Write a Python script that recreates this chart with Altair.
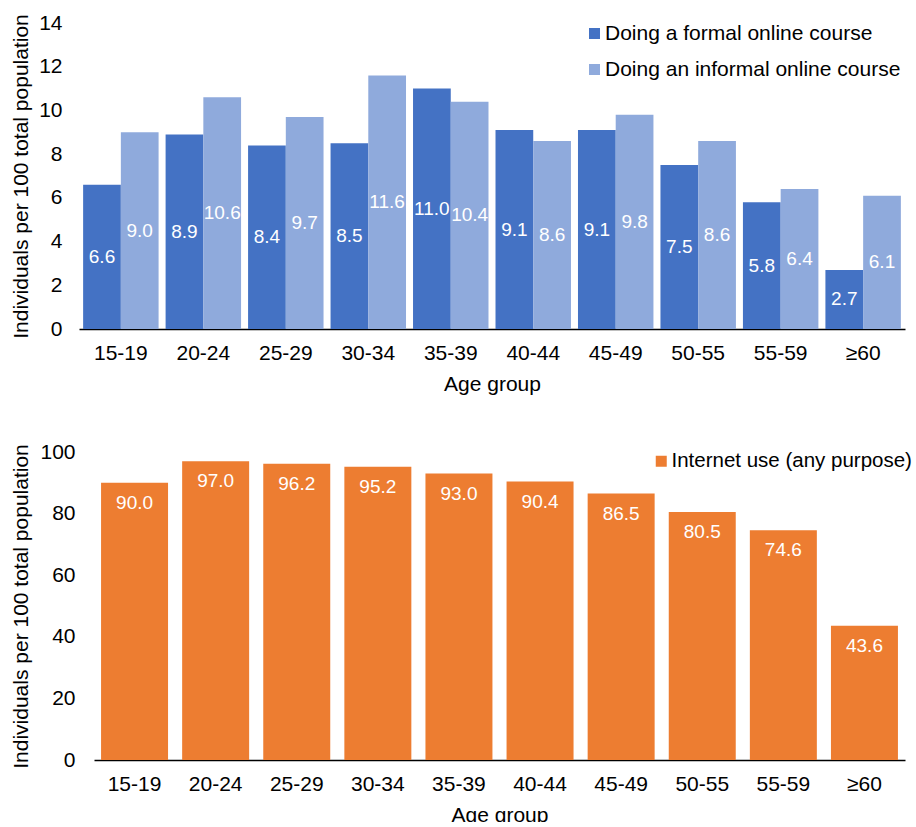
import altair as alt
import pandas as pd

ages = ["15-19", "20-24", "25-29", "30-34", "35-39", "40-44", "45-49", "50-55", "55-59", "≥60"]
formal = [6.6, 8.9, 8.4, 8.5, 11.0, 9.1, 9.1, 7.5, 5.8, 2.7]
informal = [9.0, 10.6, 9.7, 11.6, 10.4, 8.6, 9.8, 8.6, 6.4, 6.1]
internet = [90.0, 97.0, 96.2, 95.2, 93.0, 90.4, 86.5, 80.5, 74.6, 43.6]
series_top = ["Doing a formal online course", "Doing an informal online course"]
series_bottom = ["Internet use (any purpose)"]
colors_top = ["#4472C4", "#8FAADC"]
colors_bottom = ["#ED7D31"]
y_ticks_top = [0, 2, 4, 6, 8, 10, 12, 14]
y_ticks_bottom = [0, 20, 40, 60, 80, 100]
y_title = "Individuals per 100 total population"
x_title = "Age group"

FONT = "Liberation Sans"
FS = 21

top_df = pd.DataFrame({
    "age": ages * 2,
    "series": [series_top[0]] * len(ages) + [series_top[1]] * len(ages),
    "value": formal + informal,
})
bottom_df = pd.DataFrame({
    "age": ages,
    "series": series_bottom * len(ages),
    "value": internet,
})


def x_axis():
    return alt.Axis(labelAngle=0, labelFontSize=FS, labelPadding=13, titleFontSize=FS,
                    titlePadding=10, ticks=False, domainColor="black", domainWidth=1.5,
                    labelColor="black", titleColor="black", titleFontWeight="normal",
                    labelFont=FONT, titleFont=FONT, grid=False)


def y_axis(vals, lp, tp, off=0):
    return alt.Axis(values=vals, labelFontSize=FS, labelPadding=lp, titleFontSize=FS,
                    titlePadding=tp, ticks=False, domain=False, grid=False, offset=off,
                    labelColor="black", titleColor="black", titleFontWeight="normal",
                    labelFont=FONT, titleFont=FONT)


def legend(lx, ly, fs):
    return alt.Legend(orient="none", legendX=lx, legendY=ly, title=None,
                      labelFontSize=fs, labelFont=FONT, labelColor="black",
                      symbolType="square", symbolSize=121, symbolStrokeWidth=0,
                      rowPadding=14, labelOffset=0, padding=0, labelLimit=400)


# ---------- top chart ----------
xs_top = alt.X("age:N", sort=ages, title=x_title,
               scale=alt.Scale(paddingInner=0.085, paddingOuter=0.05), axis=x_axis())
ys_top_scale = alt.Scale(domain=[0, 14], nice=False)

top_base = alt.Chart(top_df).transform_calculate(mid="datum.value / 2")

top_bars = top_base.mark_bar().encode(
    x=xs_top,
    xOffset=alt.XOffset("series:N", sort=series_top),
    y=alt.Y("value:Q", scale=ys_top_scale, title=y_title, axis=y_axis(y_ticks_top, 17, 7)),
    color=alt.Color("series:N", sort=series_top,
                    scale=alt.Scale(domain=series_top, range=colors_top),
                    legend=legend(505, 0, FS)),
)

top_text = top_base.mark_text(color="white", fontSize=19, font=FONT, baseline="middle").encode(
    x=xs_top,
    xOffset=alt.XOffset("series:N", sort=series_top),
    y=alt.Y("mid:Q", scale=ys_top_scale, title=y_title, axis=y_axis(y_ticks_top, 17, 7)),
    text=alt.Text("value:Q", format=".1f"),
)

top = alt.layer(top_bars, top_text).properties(width=826, height=306)

# ---------- bottom chart ----------
xs_bot = alt.X("age:N", sort=ages, title=x_title,
               scale=alt.Scale(range=[15, 826], paddingInner=0.174, paddingOuter=0.087),
               axis=x_axis())
ys_bot_scale = alt.Scale(domain=[0, 100], nice=False)

bot_base = alt.Chart(bottom_df)

bot_bars = bot_base.mark_bar().encode(
    x=xs_bot,
    y=alt.Y("value:Q", scale=ys_bot_scale, title=y_title,
            axis=y_axis(y_ticks_bottom, 19, 8, -15)),
    color=alt.Color("series:N",
                    scale=alt.Scale(domain=series_bottom, range=colors_bottom),
                    legend=legend(572, -1, 20.5)),
)

bot_text = bot_base.mark_text(color="white", fontSize=19, font=FONT, baseline="middle", dy=20).encode(
    x=xs_bot,
    y=alt.Y("value:Q", scale=ys_bot_scale, title=y_title,
            axis=y_axis(y_ticks_bottom, 19, 8, -15)),
    text=alt.Text("value:Q", format=".1f"),
)

bottom = alt.layer(bot_bars, bot_text).properties(width=826, height=308)

chart = alt.concat(top, bottom, columns=1, spacing=47).properties(
    padding={"left": 10, "top": 12, "right": 0, "bottom": -3},
    background="white",
).configure_view(stroke=None).resolve_scale(color="independent")

chart.save("out.html", embed_options={"renderer": "svg", "actions": False})
